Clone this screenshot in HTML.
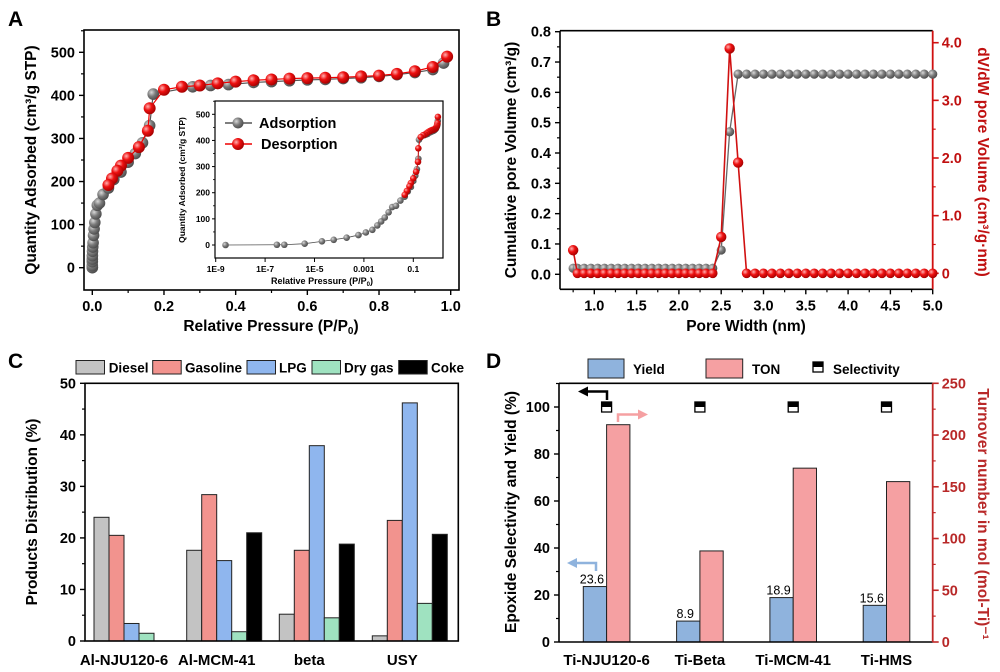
<!DOCTYPE html>
<html><head><meta charset="utf-8"><style>
body{margin:0;background:#fff}
svg{display:block;font-family:"Liberation Sans",Arial,sans-serif;font-weight:bold}
</style></head><body>
<svg id="fig" width="1000" height="672" viewBox="0 0 1000 672" xmlns="http://www.w3.org/2000/svg">
<defs>
<radialGradient id="gg" cx="0.35" cy="0.35" r="0.7"><stop offset="0" stop-color="#d8d8d8"/><stop offset="0.5" stop-color="#7a7a7a"/><stop offset="1" stop-color="#4a4a4a"/></radialGradient>
<radialGradient id="rg" cx="0.35" cy="0.35" r="0.7"><stop offset="0" stop-color="#ffb0b0"/><stop offset="0.45" stop-color="#ee1010"/><stop offset="1" stop-color="#a00000"/></radialGradient>
</defs>
<text x="8" y="26" font-size="21">A</text>
<text x="486" y="26" font-size="21">B</text>
<text x="8" y="368" font-size="21">C</text>
<text x="486" y="368" font-size="21">D</text>
<g id="gA"></g>
<g id="gB"></g>
<g id="gC"></g>
<g id="gD"></g>
</svg>
<script>
// ---------- Panel A data ----------
const adsP=[2.5e-9,3e-7,6e-7,4e-6,2e-5,6e-5,2e-4,6e-4,1.2e-3,2.2e-3,3.5e-3,5e-3,7e-3,1e-2,0.014,0.02,0.03,0.045,0.06,0.08,0.1,0.12,0.14,0.16,0.17,0.28,0.33,0.38,0.45,0.5,0.55,0.6,0.65,0.7,0.75,0.8,0.85,0.9,0.95,0.98];
const adsV=[0,1,1,5,14,20,28,38,48,58,75,90,105,125,145,150,170,185,205,222,245,265,290,330,403,420,423,425,430,432,434,436,437,439,441,444,448,453,460,475];
const desP=[0.99,0.95,0.9,0.85,0.8,0.75,0.7,0.65,0.6,0.55,0.5,0.45,0.4,0.35,0.3,0.25,0.2,0.16,0.155,0.13,0.1,0.08,0.07,0.055,0.045];
const desV=[490,466,456,450,446,444,442,441,440,439,437,435,432,428,423,420,413,370,318,280,255,237,225,207,192];
const aXTicks=[0,0.2,0.4,0.6,0.8,1.0];
const aXTickLabels=["0.0","0.2","0.4","0.6","0.8","1.0"];
const aYTicks=[0,100,200,300,400,500];
const insetXTicks=[1e-9,1e-7,1e-5,1e-3,0.1];
const insetXTickLabels=["1E-9","1E-7","1E-5","0.001","0.1"];
const insetYTicks=[0,100,200,300,400,500];
// ---------- Panel B data ----------
const poreW=[0.75,0.8,0.88,0.96,1.04,1.12,1.2,1.28,1.36,1.44,1.52,1.6,1.68,1.76,1.84,1.92,2.0,2.08,2.16,2.24,2.32,2.4,2.5,2.6,2.7,2.8,2.9,3.0,3.1,3.2,3.3,3.4,3.5,3.6,3.7,3.8,3.9,4.0,4.1,4.2,4.3,4.4,4.5,4.6,4.7,4.8,4.9,5.0];
const cumVol=[0.02,0.02,0.02,0.02,0.02,0.02,0.02,0.02,0.02,0.02,0.02,0.02,0.02,0.02,0.02,0.02,0.02,0.02,0.02,0.02,0.02,0.02,0.08,0.47,0.66,0.66,0.66,0.66,0.66,0.66,0.66,0.66,0.66,0.66,0.66,0.66,0.66,0.66,0.66,0.66,0.66,0.66,0.66,0.66,0.66,0.66,0.66,0.66];
const dvdw=[0.4,0,0,0,0,0,0,0,0,0,0,0,0,0,0,0,0,0,0,0,0,0,0.63,3.9,1.92,0,0,0,0,0,0,0,0,0,0,0,0,0,0,0,0,0,0,0,0,0,0,0];
const bXTicks=[1.0,1.5,2.0,2.5,3.0,3.5,4.0,4.5,5.0];
const bYTicks=[0,0.1,0.2,0.3,0.4,0.5,0.6,0.7,0.8];
const bY2Ticks=[0,1,2,3,4];
const bY2Labels=["0","1.0","2.0","3.0","4.0"];
// ---------- Panel C data ----------
const cCats=["Al-NJU120-6","Al-MCM-41","beta","USY"];
const cSeries=["Diesel","Gasoline","LPG","Dry gas","Coke"];
const diesel=[24.0,17.6,5.2,1.0];
const gasoline=[20.5,28.4,17.6,23.4];
const lpg=[3.4,15.6,37.9,46.2];
const drygas=[1.5,1.8,4.5,7.3];
const coke=[0,21.0,18.8,20.7];
const cYTicks=[0,10,20,30,40,50];
// ---------- Panel D data ----------
const dCats=["Ti-NJU120-6","Ti-Beta","Ti-MCM-41","Ti-HMS"];
const yieldV=[23.6,8.9,18.9,15.6];
const tonV=[210,88,168,155];
const selV=[100,100,100,100];
const dYTicks=[0,20,40,60,80,100];
const dY2Ticks=[0,50,100,150,200,250];

const NS="http://www.w3.org/2000/svg";
function mk(p,tag,at,txt){const e=document.createElementNS(NS,tag);for(const k in at)e.setAttribute(k,at[k]);if(txt!==undefined)e.textContent=txt;p.appendChild(e);return e;}
function lin(d0,d1,r0,r1){return v=>r0+(v-d0)*(r1-r0)/(d1-d0);}

// ================= Panel A =================
(function(){
const g=document.getElementById('gA');
const L=84,R=459,T=30,B=290;
const x=lin(0,1,92.3,450.7), y=lin(0,500,267.7,52.3);
const box=mk(g,'rect',{x:L,y:T,width:R-L,height:B-T,fill:'none',stroke:'#000','stroke-width':1.6});

aXTicks.forEach((v,i)=>{mk(g,'line',{x1:x(v),x2:x(v),y1:B,y2:B+5,stroke:'#000','stroke-width':1.4});
 const t=mk(g,'text',{x:x(v),y:B+21,'font-size':14.5,'text-anchor':'middle'},aXTickLabels[i]);
 
 if(i<aXTicks.length-1){const m=x(v+0.1);mk(g,'line',{x1:m,x2:m,y1:B,y2:B+3,stroke:'#000','stroke-width':1.2});}});
aYTicks.forEach(v=>{mk(g,'line',{x1:L-5,x2:L,y1:y(v),y2:y(v),stroke:'#000','stroke-width':1.4});
 const t=mk(g,'text',{x:L-9,y:y(v)+5,'font-size':14.5,'text-anchor':'end'},String(v));
 
 if(y(v+50)>T)mk(g,'line',{x1:L-3,x2:L,y1:y(v+50),y2:y(v+50),stroke:'#000','stroke-width':1.2});});
const xt=mk(g,'text',{x:271,y:331,'font-size':15.5,'text-anchor':'middle'});
xt.innerHTML='Relative Pressure (P/P<tspan font-size="10" dy="3">0</tspan><tspan dy="-3">)</tspan>';

const yt=mk(g,'text',{x:0,y:0,'font-size':15.5,'text-anchor':'middle',transform:'translate(36,160) rotate(-90)'},'Quantity Adsorbed (cm³/g STP)');

function series(P,V,col,grad,r,name){
 const pts=P.map((p,i)=>x(p)+','+y(V[i])).join(' ');
 const pl=mk(g,'polyline',{points:pts,fill:'none',stroke:col,'stroke-width':1.2});
 
 P.forEach((p,i)=>{const c=mk(g,'circle',{cx:x(p),cy:y(V[i]),r:r,fill:'url(#'+grad+')'});
  });
}
series(adsP,adsV,'#555','gg',5.8,'adsorption');
series(desP,desV,'#e00','rg',6,'desorption');
const iL=215,iR=443,iT=101,iB=258;
const ix=v=>215.7+(Math.log10(v)+9)*24.7, iy=lin(0,500,245,114.3);
mk(g,'rect',{x:iL,y:iT,width:iR-iL,height:iB-iT,fill:'#fff',stroke:'#000','stroke-width':1.2});
insetXTicks.forEach((v,i)=>{mk(g,'line',{x1:ix(v),x2:ix(v),y1:iB,y2:iB+4,stroke:'#000','stroke-width':1});
 const t=mk(g,'text',{x:ix(v),y:iB+14,'font-size':8.5,'text-anchor':'middle'},insetXTickLabels[i]);
 });
insetYTicks.forEach(v=>{mk(g,'line',{x1:iL-3,x2:iL,y1:iy(v),y2:iy(v),stroke:'#000','stroke-width':1});
 if(iy(v+50)>iT)mk(g,'line',{x1:iL-2,x2:iL,y1:iy(v+50),y2:iy(v+50),stroke:'#000','stroke-width':0.8});
 const t=mk(g,'text',{x:iL-5,y:iy(v)+3,'font-size':8.5,'text-anchor':'end'},String(v));
 });
const ixt=mk(g,'text',{x:322,y:284,'font-size':9,'text-anchor':'middle'});
ixt.innerHTML='Relative Pressure (P/P<tspan font-size="6" dy="2">0</tspan><tspan dy="-2">)</tspan>';

const iyt=mk(g,'text',{x:0,y:0,'font-size':8.5,'text-anchor':'middle',transform:'translate(185,180) rotate(-90)'},'Quantity Adsorbed (cm³/g STP)');

function iseries(P,V,col,grad,r,name){
 mk(g,'polyline',{points:P.map((p,i)=>ix(p)+','+iy(V[i])).join(' '),fill:'none',stroke:col,'stroke-width':0.8});
 P.forEach((p,i)=>{const c=mk(g,'circle',{cx:ix(p),cy:iy(V[i]),r:r,fill:'url(#'+grad+')'});
  });
}
iseries(adsP,adsV,'#555','gg',3.3,'adsorption');
iseries(desP,desV,'#e00','rg',3.3,'desorption');
mk(g,'line',{x1:225,x2:252,y1:123,y2:123,stroke:'#555','stroke-width':1.5});
mk(g,'circle',{cx:238,cy:123,r:5.5,fill:'url(#gg)'});
const l1=mk(g,'text',{x:259,y:128,'font-size':14.5},'Adsorption');

mk(g,'line',{x1:225,x2:252,y1:144,y2:144,stroke:'#e00','stroke-width':1.5});
mk(g,'circle',{cx:238,cy:144,r:6,fill:'url(#rg)'});
const l2=mk(g,'text',{x:261,y:149,'font-size':14.5},'Desorption');

})();

// ================= Panel B =================
(function(){
const g=document.getElementById('gB');
const L=560,R=932.7,T=30.7,B=289.3;
const x=lin(1,5,594.3,932.7), y=lin(0,0.8,274.3,31.7), y2=lin(0,4,273.3,42.7);
mk(g,'line',{x1:L,x2:R,y1:T,y2:T,stroke:'#000','stroke-width':1.6});
mk(g,'line',{x1:L,x2:R,y1:B,y2:B,stroke:'#000','stroke-width':1.6});
mk(g,'line',{x1:L,x2:L,y1:T,y2:B,stroke:'#000','stroke-width':1.6});
mk(g,'line',{x1:R,x2:R,y1:T,y2:B,stroke:'#d01010','stroke-width':1.8});
bXTicks.forEach(v=>{mk(g,'line',{x1:x(v),x2:x(v),y1:B,y2:B+5,stroke:'#000','stroke-width':1.4});
 mk(g,'line',{x1:x(v-0.25),x2:x(v-0.25),y1:B,y2:B+3,stroke:'#000','stroke-width':1.2});
 const t=mk(g,'text',{x:x(v),y:B+21,'font-size':14.5,'text-anchor':'middle'},v.toFixed(1));
 });
bYTicks.forEach(v=>{mk(g,'line',{x1:L-5,x2:L,y1:y(v),y2:y(v),stroke:'#000','stroke-width':1.4});
 if(y(v+0.05)>T)mk(g,'line',{x1:L-3,x2:L,y1:y(v+0.05),y2:y(v+0.05),stroke:'#000','stroke-width':1.2});
 const t=mk(g,'text',{x:L-9,y:y(v)+5,'font-size':14.5,'text-anchor':'end'},v.toFixed(1));
 });
bY2Ticks.forEach((v,i)=>{mk(g,'line',{x1:R,x2:R+6,y1:y2(v),y2:y2(v),stroke:'#d01010','stroke-width':1.6});
 if(y2(v+0.5)>T)mk(g,'line',{x1:R,x2:R+3,y1:y2(v+0.5),y2:y2(v+0.5),stroke:'#d01010','stroke-width':1.2});
 const t=mk(g,'text',{x:R+9,y:y2(v)+5,'font-size':14.5,fill:'#c01010'},bY2Labels[i]);
 });
const xt=mk(g,'text',{x:746,y:331,'font-size':15.5,'text-anchor':'middle'},'Pore Width (nm)');

const yt=mk(g,'text',{x:0,y:0,'font-size':15.5,'text-anchor':'middle',transform:'translate(516,160) rotate(-90)'},'Cumulative pore Volume (cm³/g)');

const y2t=mk(g,'text',{x:0,y:0,'font-size':15.5,'text-anchor':'middle',fill:'#c01010',transform:'translate(978,162) rotate(90)'},'dV/dW pore Volume (cm³/g·nm)');

mk(g,'polyline',{points:poreW.map((w,i)=>x(w)+','+y(cumVol[i])).join(' '),fill:'none',stroke:'#666','stroke-width':1.3});
poreW.forEach((w,i)=>{const c=mk(g,'circle',{cx:x(w),cy:y(cumVol[i]),r:4.6,fill:'url(#gg)'});
 });
mk(g,'polyline',{points:poreW.map((w,i)=>x(w)+','+y2(dvdw[i])).join(' '),fill:'none',stroke:'#d01010','stroke-width':1.6});
poreW.forEach((w,i)=>{const c=mk(g,'circle',{cx:x(w),cy:y2(dvdw[i]),r:dvdw[i]>0?5.2:4.8,fill:'url(#rg)'});
 });
})();

// ================= Panel C =================
(function(){
const g=document.getElementById('gC');
const L=85,R=458.3,T=383.3,B=641;
const y=lin(0,50,641,383.3);
const cols=['#c3c3c3','#f2938e','#8fb6ee','#9fe2c0','#000'];
const vals=[diesel,gasoline,lpg,drygas,coke];
const bw=15, gstart=[94,186.7,279.3,372.3];
cCats.forEach((c,ci)=>{
 vals.forEach((s,si)=>{if(s[ci]<=0)return;
  const r=mk(g,'rect',{x:gstart[ci]+si*bw,y:y(s[ci]),width:bw,height:B-y(s[ci]),fill:cols[si],stroke:'#222','stroke-width':1});
  });
 const t=mk(g,'text',{x:gstart[ci]+30,y:B+24,'font-size':15,'text-anchor':'middle'},c);
 
});
mk(g,'rect',{x:L,y:T,width:R-L,height:B-T,fill:'none',stroke:'#000','stroke-width':1.6});
cYTicks.forEach(v=>{mk(g,'line',{x1:L-5,x2:L,y1:y(v),y2:y(v),stroke:'#000','stroke-width':1.4});
 if(v<50)mk(g,'line',{x1:L-3,x2:L,y1:y(v+5),y2:y(v+5),stroke:'#000','stroke-width':1.2});
 const t=mk(g,'text',{x:L-9,y:y(v)+5,'font-size':14.5,'text-anchor':'end'},String(v));
 });
const yt=mk(g,'text',{x:0,y:0,'font-size':15.5,'text-anchor':'middle',transform:'translate(37,512) rotate(-90)'},'Products Distribution (%)');

const lx=[76,152.7,247,312,398.7], tx=[108.7,185,279,344,431];
cSeries.forEach((s,i)=>{mk(g,'rect',{x:lx[i],y:360.5,width:28.5,height:13.5,fill:cols[i],stroke:'#222','stroke-width':1});
 const t=mk(g,'text',{x:tx[i],y:372.5,'font-size':13.5},s);
 });
})();

// ================= Panel D =================
(function(){
const g=document.getElementById('gD');
const L=559,R=932.7,T=383.3,B=642;
const y=lin(0,100,642,407), y2=lin(0,250,642,383.3);
const bw=23.3, gstart=[583.3,676.6,769.9,863.2];
dCats.forEach((c,i)=>{
 const r1=mk(g,'rect',{x:gstart[i],y:y(yieldV[i]),width:bw,height:B-y(yieldV[i]),fill:'#8fb3dd',stroke:'#222','stroke-width':1});
 
 const r2=mk(g,'rect',{x:gstart[i]+bw,y:y2(tonV[i]),width:bw,height:B-y2(tonV[i]),fill:'#f5a0a2',stroke:'#222','stroke-width':1});
 
 const lab=mk(g,'text',{x:gstart[i]+bw/2-3,y:y(yieldV[i])-3,'font-size':12.5,'text-anchor':'middle','font-weight':'normal'},yieldV[i].toFixed(1));
 
 const sx=gstart[i]+bw, sy=y(selV[i]);
 const s=mk(g,'rect',{x:sx-5,y:sy-5,width:10,height:10,fill:'#fff',stroke:'#000','stroke-width':1.3});
 
 mk(g,'rect',{x:sx-5,y:sy-5,width:10,height:5,fill:'#000'});
 const t=mk(g,'text',{x:gstart[i]+bw,y:B+23,'font-size':15,'text-anchor':'middle'},c);
 
});
mk(g,'line',{x1:L,x2:R,y1:T,y2:T,stroke:'#000','stroke-width':1.6});
mk(g,'line',{x1:L,x2:R,y1:B,y2:B,stroke:'#000','stroke-width':1.6});
mk(g,'line',{x1:L,x2:L,y1:T,y2:B,stroke:'#000','stroke-width':1.6});
mk(g,'line',{x1:R,x2:R,y1:T,y2:B,stroke:'#c02828','stroke-width':1.8});
dYTicks.forEach(v=>{mk(g,'line',{x1:L-5,x2:L,y1:y(v),y2:y(v),stroke:'#000','stroke-width':1.4});
 if(y(v+10)>=T)mk(g,'line',{x1:L-3,x2:L,y1:y(v+10),y2:y(v+10),stroke:'#000','stroke-width':1.2});
 const t=mk(g,'text',{x:L-9,y:y(v)+5,'font-size':14.5,'text-anchor':'end'},String(v));
 });
dY2Ticks.forEach(v=>{mk(g,'line',{x1:R,x2:R+6,y1:y2(v),y2:y2(v),stroke:'#c02828','stroke-width':1.6});
 if(y2(v+25)>T)mk(g,'line',{x1:R,x2:R+3,y1:y2(v+25),y2:y2(v+25),stroke:'#c02828','stroke-width':1.2});
 const t=mk(g,'text',{x:R+9,y:y2(v)+5,'font-size':14.5,fill:'#b82828'},String(v));
 });
const yt=mk(g,'text',{x:0,y:0,'font-size':15.5,'text-anchor':'middle',transform:'translate(516,512) rotate(-90)'},'Epoxide Selectivity and Yield (%)');

const y2t=mk(g,'text',{x:0,y:0,'font-size':15.5,'text-anchor':'middle',fill:'#b82828',transform:'translate(978,514) rotate(90)'},'Turnover number in mol (mol-Ti)⁻¹');

const a1=mk(g,'path',{d:'M607,400 V391.5 H586',fill:'none',stroke:'#000','stroke-width':2.5});
mk(g,'polygon',{points:'578,391.5 588,386.5 588,396.5',fill:'#000'});
mk(g,'path',{d:'M618,422 V414.5 H640',fill:'none',stroke:'#f5a0a2','stroke-width':2.5});
mk(g,'polygon',{points:'648,414.5 638,409.5 638,419.5',fill:'#f5a0a2'});
mk(g,'path',{d:'M596,571 V563 H575',fill:'none',stroke:'#8fb3dd','stroke-width':2.5});
mk(g,'polygon',{points:'567,563 577,558 577,568',fill:'#8fb3dd'});
mk(g,'rect',{x:588,y:359,width:36,height:19,fill:'#8fb3dd',stroke:'#222','stroke-width':1});
const l1=mk(g,'text',{x:633,y:374,'font-size':13.5},'Yield');
mk(g,'rect',{x:706,y:359,width:36.7,height:19,fill:'#f5a0a2',stroke:'#222','stroke-width':1});
const l2=mk(g,'text',{x:752,y:374,'font-size':13.5},'TON');
mk(g,'rect',{x:813,y:362,width:10,height:10,fill:'#fff',stroke:'#000','stroke-width':1.3});
mk(g,'rect',{x:813,y:362,width:10,height:5,fill:'#000'});
const l3=mk(g,'text',{x:833,y:374,'font-size':13.5},'Selectivity');
})();
</script>
</body></html>
